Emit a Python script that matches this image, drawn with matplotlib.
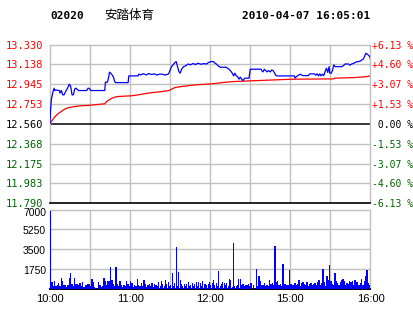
import matplotlib
matplotlib.use("Agg")
import matplotlib.pyplot as plt

# ==============================
# DATA
# ==============================

code = "02020"
name = "安踏体育"
stamp = "2010-04-07 16:05:01"

price_levels = [11.790, 11.983, 12.175, 12.368, 12.560, 12.753, 12.945, 13.138, 13.330]
price_labels = ["11.790", "11.983", "12.175", "12.368", "12.560", "12.753", "12.945", "13.138", "13.330"]
pct_labels = ["-6.13 %", "-4.60 %", "-3.07 %", "-1.53 %", " 0.00 %", "+1.53 %", "+3.07 %", "+4.60 %", "+6.13 %"]
prev_close = 12.560

time_ticks = [0, 60, 120, 180, 240]
time_labels = ["10:00", "11:00", "12:00", "15:00", "16:00"]

vol_levels = [1750, 3500, 5250, 7000]

# last price (blue), minute offset from 10:00 (lunch break removed)
price_min = [0, 0.3, 1, 2, 3, 3.5, 4, 7, 7.5, 8.5, 9.5, 10.5, 11.5, 13, 14.5, 15.5, 16, 16.5,
             17.5, 18.5, 19.5, 20.5, 21.5, 27.5, 28.5, 29.5, 30.5, 41, 41.5, 43, 44, 44.5,
             45.5, 46.5, 47.5, 48.5, 49, 58.5, 59, 62, 66, 66.5, 68, 70, 72, 74, 76, 78, 80,
             82, 84, 86, 88.5, 89, 89.5, 91, 93.5, 94.5, 95.5, 96.5, 97.5, 98.5, 100, 101.5,
             103.5, 105, 107, 109, 111, 113, 115, 117.5, 118.5, 120.5, 122.5, 123, 124.5, 126,
             127.5, 132, 133, 134, 135, 136.5, 137.5, 138.5, 139.5, 140.5, 141.5, 142.5, 143.5,
             144.5, 145.5, 146.5, 149, 149.5, 150, 158, 158.5, 159.5, 160.5, 161.5, 162.5,
             163.5, 165, 166, 167, 168, 169, 170, 183, 183.5, 184.5, 186, 187.5, 188.5, 189.5,
             193.5, 194.5, 198, 199, 200, 201, 202, 203, 204, 205, 206, 207, 208, 209, 209.5,
             210.5, 211.5, 212.5, 213.5, 218.5, 219.5, 221, 223.5, 224.5, 226, 227.5, 229.5,
             232, 233.5, 234.5, 235.5, 236.5, 237.5, 238.5, 239.5, 240]
price_val = [12.570, 12.682, 12.795, 12.860, 12.908, 12.885, 12.890, 12.885, 12.860, 12.885,
             12.843, 12.843, 12.870, 12.905, 12.947, 12.924, 12.885, 12.843, 12.843, 12.900,
             12.908, 12.895, 12.885, 12.885, 12.908, 12.905, 12.885, 12.885, 12.966, 12.966,
             13.020, 13.063, 13.053, 13.037, 13.015, 12.972, 12.962, 12.962, 13.027, 13.027,
             13.027, 13.044, 13.037, 13.048, 13.036, 13.050, 13.040, 13.047, 13.035, 13.044,
             13.044, 13.035, 13.044, 13.053, 13.069, 13.117, 13.156, 13.166, 13.117, 13.069,
             13.053, 13.092, 13.117, 13.124, 13.143, 13.134, 13.147, 13.138, 13.150, 13.140,
             13.146, 13.143, 13.156, 13.166, 13.166, 13.156, 13.143, 13.124, 13.111, 13.111,
             13.102, 13.092, 13.079, 13.053, 13.027, 13.053, 13.027, 13.020, 12.995, 13.015,
             12.995, 12.982, 13.001, 13.005, 13.005, 13.053, 13.092, 13.092, 13.079, 13.066,
             13.092, 13.079, 13.066, 13.079, 13.066, 13.085, 13.079, 13.060, 13.034, 13.027,
             13.027, 13.005, 13.020, 13.034, 13.044, 13.034, 13.030, 13.030, 13.047, 13.047,
             13.034, 13.047, 13.027, 13.047, 13.027, 13.044, 13.030, 13.069, 13.102, 13.060,
             13.117, 13.053, 13.053, 13.079, 13.134, 13.117, 13.117, 13.124, 13.143, 13.143,
             13.131, 13.143, 13.150, 13.163, 13.169, 13.182, 13.189, 13.214, 13.247, 13.240,
             13.227, 13.214, 13.189]

# average price (red)
avg_min = [0, 3.5, 6, 8.5, 11, 13.5, 16, 18.5, 23.5, 28.5, 33.5, 41, 42.5, 43.5, 46, 48.5, 51,
           61, 66, 73.5, 83.5, 89, 91, 93.5, 98.5, 108.5, 121, 126, 128.5, 137, 156, 181.5,
           212.5, 213, 228.5, 237, 240]
avg_val = [12.565, 12.628, 12.660, 12.682, 12.705, 12.718, 12.724, 12.730, 12.737, 12.740,
           12.747, 12.756, 12.779, 12.788, 12.808, 12.821, 12.827, 12.834, 12.843, 12.860,
           12.875, 12.885, 12.898, 12.914, 12.924, 12.940, 12.950, 12.957, 12.962, 12.972,
           12.982, 12.995, 12.998, 13.005, 13.011, 13.020, 13.027]

# volume per minute
volume = [
    6900, 600, 250, 700, 200, 300, 450, 250, 900, 700,
    300, 300, 150, 300, 900, 1400, 370, 200, 950, 370,
    370, 310, 460, 200, 600, 150, 310, 310, 370, 370,
    200, 840, 540, 160, 0, 0, 540, 310, 150, 200,
    950, 660, 300, 660, 660, 1920, 750, 370, 200, 1920,
    370, 200, 660, 310, 150, 310, 200, 660, 370, 200,
    660, 460, 150, 310, 200, 840, 310, 200, 460, 250,
    750, 370, 150, 310, 370, 200, 460, 150, 370, 310,
    200, 600, 250, 660, 370, 200, 750, 370, 540, 200,
    310, 1400, 200, 460, 3680, 200, 1420, 750, 370, 200,
    370, 250, 370, 540, 200, 310, 460, 200, 370, 600,
    200, 540, 460, 250, 660, 440, 440, 300, 440, 580,
    300, 450, 730, 300, 490, 200, 1540, 250, 400, 580,
    530, 300, 490, 200, 880, 790, 150, 4010, 250, 200,
    300, 820, 880, 300, 440, 200, 350, 300, 440, 200,
    490, 0, 290, 0, 1700, 250, 1080, 670, 300, 350,
    490, 200, 350, 250, 730, 440, 530, 300, 3770, 580,
    670, 300, 440, 250, 2180, 440, 440, 300, 290, 1630,
    440, 300, 290, 530, 300, 440, 730, 250, 490, 580,
    440, 300, 580, 250, 440, 530, 300, 440, 490, 300,
    580, 730, 300, 490, 1700, 580, 250, 1080, 730, 2040,
    640, 440, 300, 1390, 640, 490, 300, 580, 730, 820,
    670, 300, 530, 440, 640, 580, 640, 300, 730, 580,
    580, 300, 490, 880, 300, 670, 1080, 1630, 490, 290,
    200,
]

# ==============================
# STYLE
# ==============================

GRID = "#c0c0c0"
RED = "#ff0000"
GREEN = "#006400"
BLUE = "#0000ff"
MONO = "DejaVu Sans Mono"
SANS = "Liberation Sans"

W, H = 414, 314


def box(x0, y0, x1, y1):
    # pixel box -> figure fraction rect
    return [x0 / W, 1 - y1 / H, (x1 - x0) / W, (y1 - y0) / H]


fig = plt.figure(figsize=(W / 100, H / 100), dpi=100)
fig.patch.set_facecolor("white")

# ---------- price panel ----------
ax = fig.add_axes(box(50, 44.7, 370.5, 203.3))
ax.set_xlim(0, 240)
ax.set_ylim(price_levels[0], price_levels[-1])

for t in range(30, 240, 30):
    ax.axvline(t, color=GRID, lw=1.0, zorder=1)
for lvl in price_levels[1:-1]:
    if lvl == prev_close:
        ax.axhline(lvl, color="black", lw=1.1, zorder=2)
    else:
        ax.axhline(lvl, color=GRID, lw=1.0, zorder=1)

ax.plot(avg_min, avg_val, color=RED, lw=0.9, zorder=3)
ax.plot(price_min, price_val, color=BLUE, lw=0.9, zorder=4)

for side in ("top", "left", "right"):
    ax.spines[side].set_color(GRID)
    ax.spines[side].set_linewidth(1.0)
ax.spines["bottom"].set_color("black")
ax.spines["bottom"].set_linewidth(1.2)

ax.set_xticks([])
ax.set_yticks(price_levels)
ax.set_yticklabels(price_labels, family=MONO, fontsize=7.5)
ax.tick_params(axis="y", length=0, pad=5)


def level_color(lvl):
    if lvl > prev_close:
        return RED
    if lvl < prev_close:
        return GREEN
    return "black"


for lab, lvl in zip(ax.get_yticklabels(), price_levels):
    lab.set_color(level_color(lvl))

ax2 = ax.twinx()
ax2.set_ylim(ax.get_ylim())
ax2.set_yticks(price_levels)
ax2.set_yticklabels(pct_labels, family=MONO, fontsize=7)
ax2.tick_params(axis="y", length=0, pad=1)
for lab, lvl in zip(ax2.get_yticklabels(), price_levels):
    lab.set_color(level_color(lvl))
for s in ax2.spines.values():
    s.set_visible(False)

# ---------- volume panel ----------
axv = fig.add_axes(box(50, 209.5, 370.5, 288.5))
axv.set_xlim(0, 240)
axv.set_ylim(0, 7000)
for t in range(30, 240, 30):
    axv.axvline(t, color=GRID, lw=1.0, zorder=1)
for lvl in vol_levels[:-1]:
    axv.axhline(lvl, color=GRID, lw=1.0, zorder=1)

axv.bar(range(len(volume)), volume, width=0.9, align="edge", color=BLUE,
        linewidth=0, zorder=3)

for side in ("top", "left", "right"):
    axv.spines[side].set_color(GRID)
    axv.spines[side].set_linewidth(1.0)
axv.spines["bottom"].set_color("black")
axv.spines["bottom"].set_linewidth(1.4)

# volume labels sit a little below their grid lines, the top one more so
axv.set_yticks([])
for lvl in vol_levels:
    dy = -4 if lvl == vol_levels[-1] else -2
    axv.annotate(str(lvl), xy=(0, lvl), xycoords=axv.get_yaxis_transform(),
                 xytext=(-4, dy), textcoords="offset pixels",
                 ha="right", va="center", family=SANS, fontsize=7.5)
axv.set_xticks(time_ticks)
axv.set_xticklabels(time_labels, family=SANS, fontsize=8)
axv.tick_params(axis="x", length=0, pad=4)

# ---------- header ----------
fig.text(50 / W, 1 - 16 / H, code, family=MONO, fontweight="bold", fontsize=8,
         va="center", ha="left")
fig.text(104 / W, 1 - 16 / H, name, family=["Noto Sans CJK SC", "DejaVu Sans"],
         fontsize=9, va="center", ha="left")
fig.text(370 / W, 1 - 16 / H, stamp, family=MONO, fontweight="bold", fontsize=8,
         va="center", ha="right")

fig.savefig("out.png", dpi=100)
